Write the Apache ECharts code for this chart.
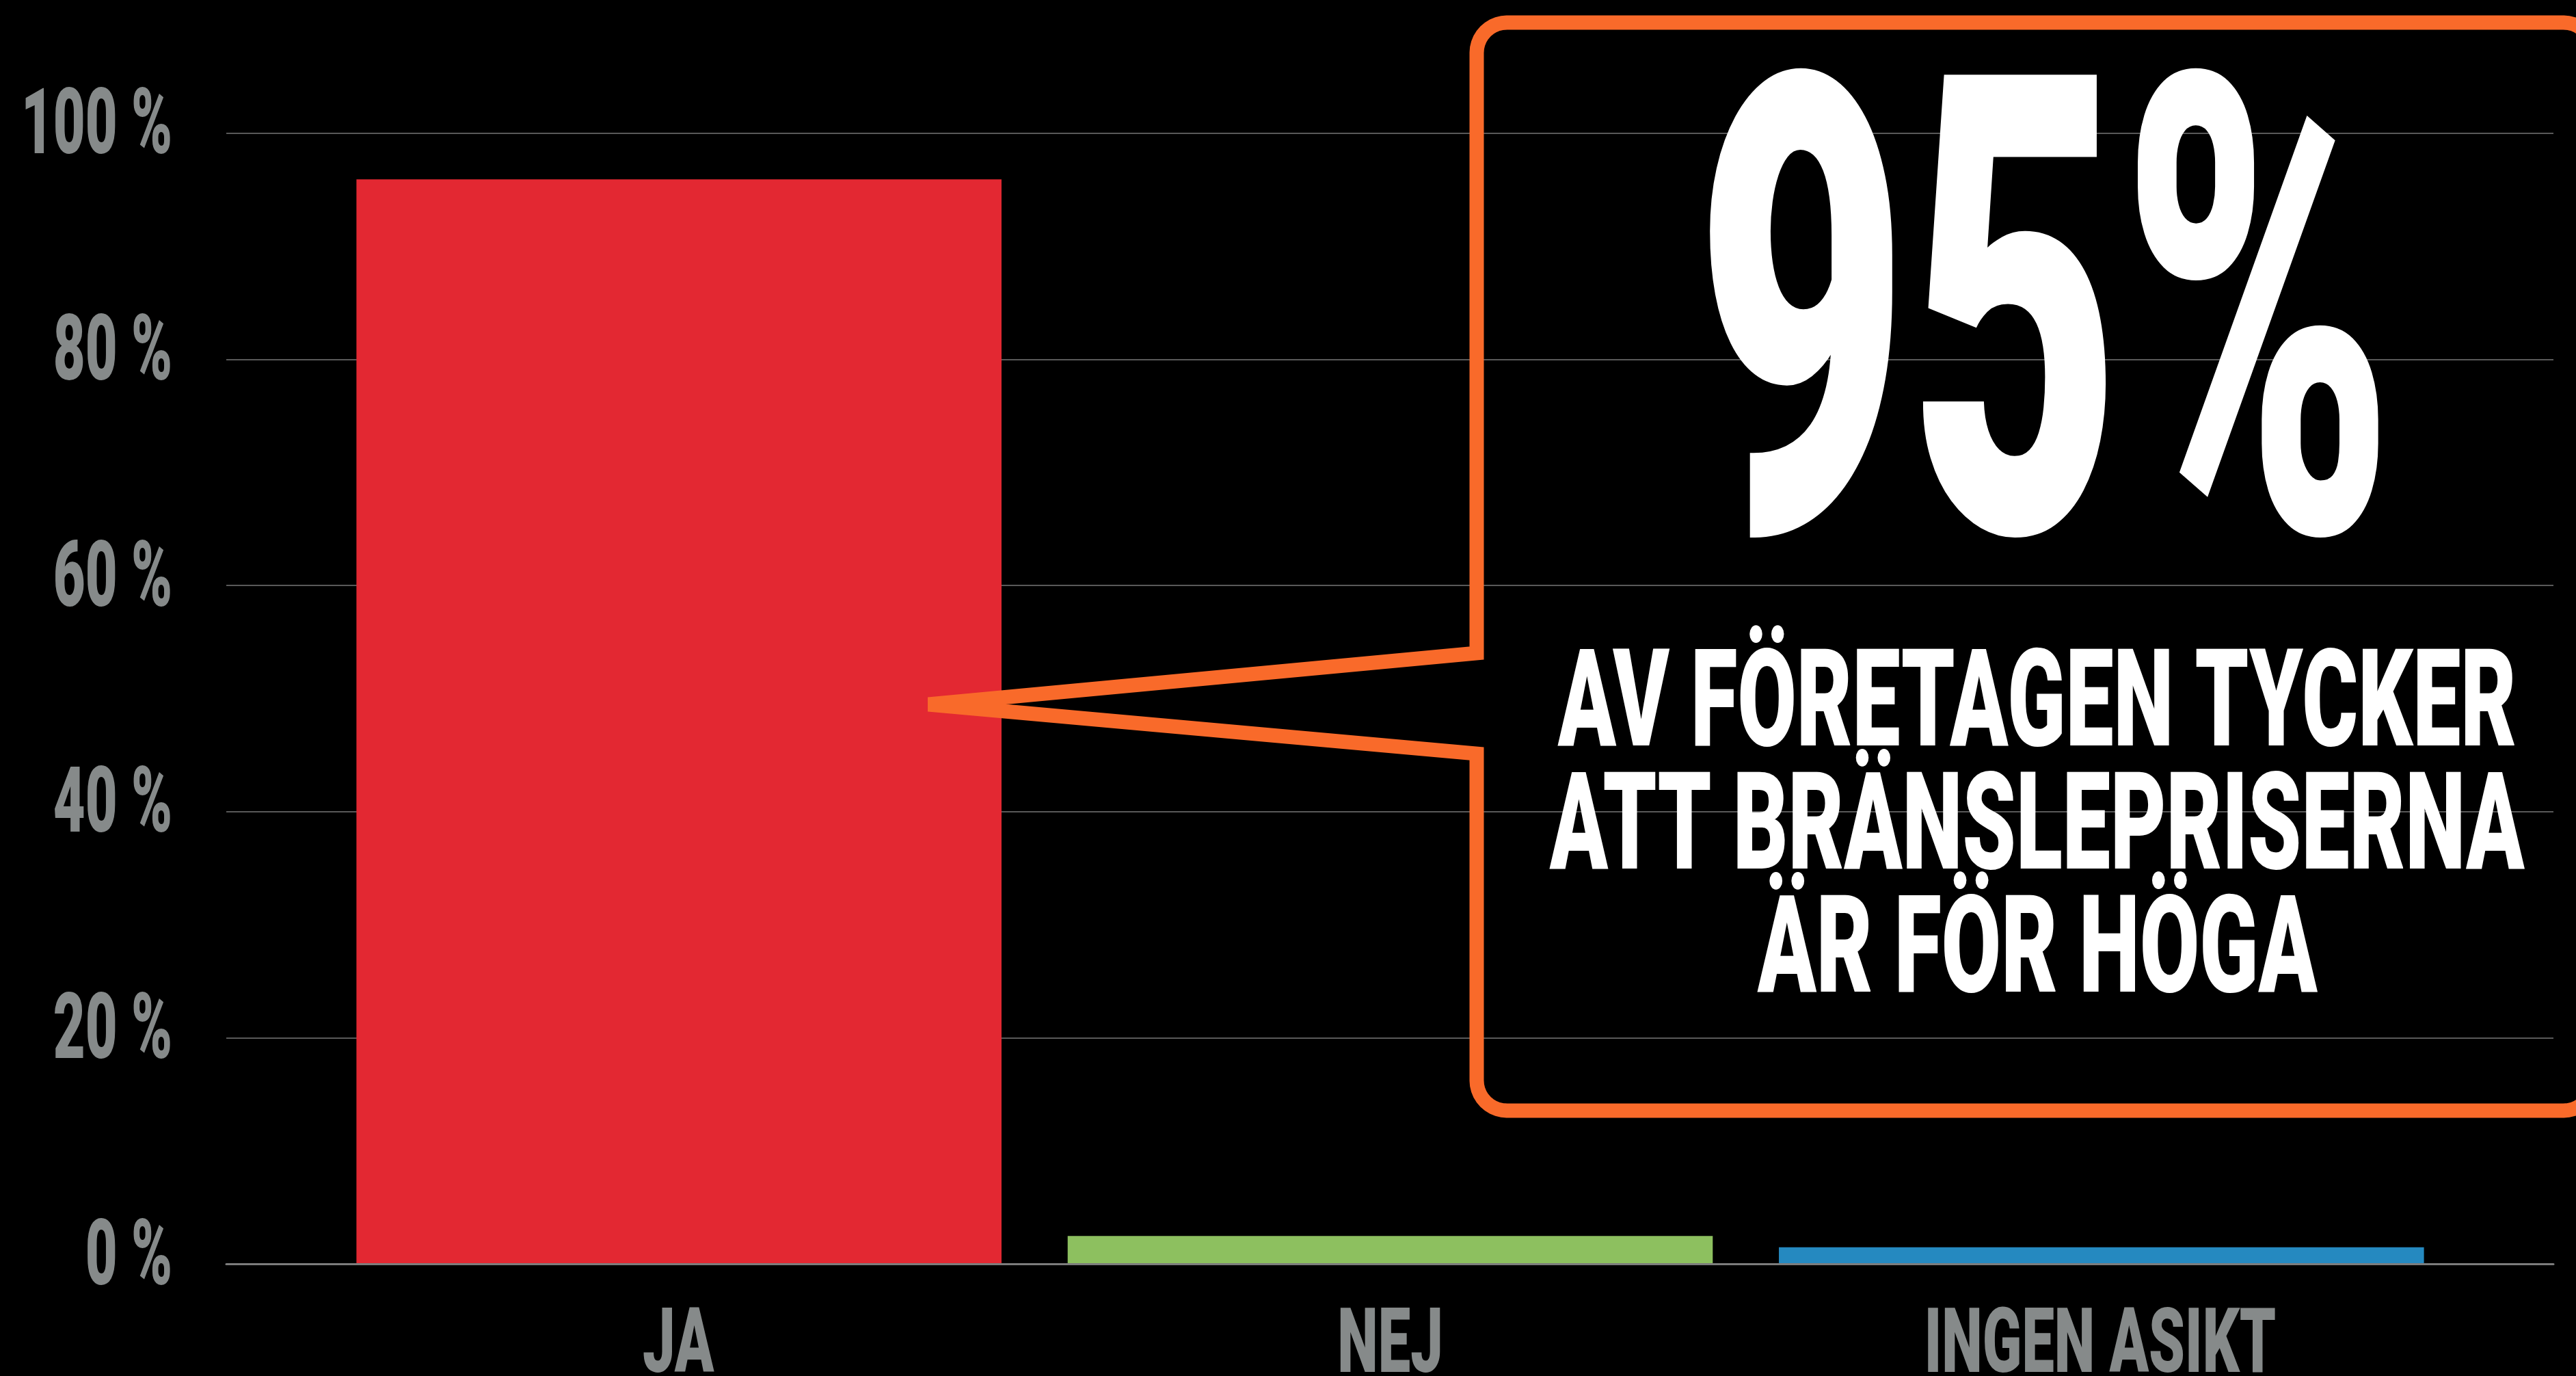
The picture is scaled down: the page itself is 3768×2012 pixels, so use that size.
<!DOCTYPE html>
<html>
<head>
<meta charset="utf-8">
<script src="https://cdn.jsdelivr.net/npm/echarts@6/dist/echarts.min.js"></script>
<style>
  html, body { margin: 0; padding: 0; background: #000; }
  #main { width: 3768px; height: 2012px; }
</style>
</head>
<body>
<div id="main"></div>
<script>
// data
var categories = ['JA', 'NEJ', 'INGEN ASIKT'];
var shares = [95.9, 2.5, 1.5];
var yTicks = [0, 20, 40, 60, 80, 100];
var headline = '95%';
var calloutLines = ['AV FÖRETAGEN TYCKER', 'ATT BRÄNSLEPRISERNA', 'ÄR FÖR HÖGA'];

var barColors = ['#e32832', '#8dc05f', '#2589c0'];
var labelGray = '#868a8a';
var orange = '#f96a2a';

var myChart = echarts.init(document.getElementById('main'));

var option = {
  backgroundColor: '#000',
  animation: false,
  grid: [
    // wide grid: gridlines + zero line
    { left: 331, right: 33, top: 194.5, bottom: 163.5 },
    // narrower grid: the bars
    { left: 473, right: 174, top: 194.5, bottom: 163.5 }
  ],
  xAxis: [
    {
      gridIndex: 0, type: 'value', min: 0, max: 1, z: 5,
      axisLine: { show: true, lineStyle: { color: '#7c7c7c', width: 3 } },
      axisTick: { show: false }, axisLabel: { show: false }, splitLine: { show: false }
    },
    {
      gridIndex: 1, type: 'category', data: categories,
      axisLine: { show: false }, axisTick: { show: false }, axisLabel: { show: false }
    }
  ],
  yAxis: [
    {
      gridIndex: 0, type: 'value', min: 0, max: 100, interval: 20,
      axisLine: { show: false }, axisTick: { show: false }, axisLabel: { show: false },
      splitLine: { lineStyle: { color: '#595959', width: 2 } }
    },
    { gridIndex: 1, type: 'value', min: 0, max: 100, show: false, splitLine: { show: false } }
  ],
  series: [{
    type: 'bar',
    xAxisIndex: 1,
    yAxisIndex: 1,
    barCategoryGap: '9.3%',
    data: shares.map(function (v, i) {
      return { value: v, itemStyle: { color: barColors[i] } };
    })
  }]
};

myChart.setOption(option);

// text is condensed with scaleX to look like the narrow display face
var FONT = 'Roboto';
var WEIGHT = '900';
var ctx = document.createElement('canvas').getContext('2d');

function measure(text, size) {
  ctx.font = WEIGHT + ' ' + size + 'px ' + FONT;
  ctx.textAlign = 'left';
  ctx.textBaseline = 'middle';
  var m = ctx.measureText(text);
  var h = ctx.measureText('H');
  return {
    L: m.actualBoundingBoxLeft, R: m.actualBoundingBoxRight,
    asc: h.actualBoundingBoxAscent, desc: h.actualBoundingBoxDescent
  };
}

function sizeForCap(cap) {
  var m = measure('H', 100);
  return cap / (m.asc + m.desc) * 100;
}

function textEl(text, size, sx, x, y, fill) {
  return {
    type: 'text', x: x, y: y, scaleX: sx, z: 20,
    style: {
      text: text, font: WEIGHT + ' ' + size + 'px ' + FONT,
      fill: fill, align: 'left', verticalAlign: 'middle'
    }
  };
}

// fit a text into an ink box
function fitText(text, left, right, capTop, capBottom, fill) {
  var size = sizeForCap(capBottom - capTop);
  var m = measure(text, size);
  var sx = (right - left) / (m.L + m.R);
  return textEl(text, size, sx, left + sx * m.L, capTop + m.asc, fill);
}

// rounded corner points
function corner(cx, cy, r, a0, a1) {
  var pts = [];
  for (var i = 0; i <= 10; i++) {
    var a = (a0 + (a1 - a0) * i / 10) * Math.PI / 180;
    pts.push([cx + r * Math.cos(a), cy + r * Math.sin(a)]);
  }
  return pts;
}

var bx0 = 2160, by0 = 33, bx1 = 3794, by1 = 1624, br = 44;
var frame = [[bx0, 955]]
  .concat(corner(bx0 + br, by0 + br, br, 180, 270))
  .concat(corner(bx1 - br, by0 + br, br, 270, 360))
  .concat(corner(bx1 - br, by1 - br, br, 0, 90))
  .concat(corner(bx0 + br, by1 - br, br, 90, 180))
  .concat([[bx0, 1102], [1358, 1030]]);

var graphics = [];

// callout frame with pointer
graphics.push({
  type: 'polygon', z: 15,
  shape: { points: frame },
  style: { fill: 'none', stroke: orange, lineWidth: 21, lineJoin: 'miter', miterLimit: 4 }
});

// y labels
var ySize = sizeForCap(96);
var yRef = measure(yTicks[yTicks.length - 1] + ' %', ySize);
var ySx = 212 / (yRef.L + yRef.R);
yTicks.forEach(function (v) {
  var t = v + ' %';
  var m = measure(t, ySize);
  var py = myChart.convertToPixel({ yAxisIndex: 0 }, v);
  var capTop = py - 18.5 - 48;
  graphics.push(textEl(t, ySize, ySx, 249 - ySx * m.R, capTop + m.asc, labelGray));
});

// category labels
var xSize = sizeForCap(95);
var xRef = measure('INGEN ASIKT', xSize);
var xSx = 508 / (xRef.L + xRef.R);
categories.forEach(function (c) {
  var m = measure(c, xSize);
  var px = myChart.convertToPixel({ xAxisIndex: 1 }, c);
  graphics.push(textEl(c, xSize, xSx, px - xSx * (m.R - m.L) / 2, 1912 + m.asc, labelGray));
});

// headline and callout text
graphics.push(fitText(headline, 2497, 3481, 102, 778, '#fff'));
graphics.push(fitText(calloutLines[0], 2278, 3678, 948, 1091, '#fff'));
graphics.push(fitText(calloutLines[1], 2266, 3693, 1128, 1271, '#fff'));
graphics.push(fitText(calloutLines[2], 2570, 3390, 1308, 1451, '#fff'));

myChart.setOption({ graphic: graphics });
</script>
</body>
</html>
